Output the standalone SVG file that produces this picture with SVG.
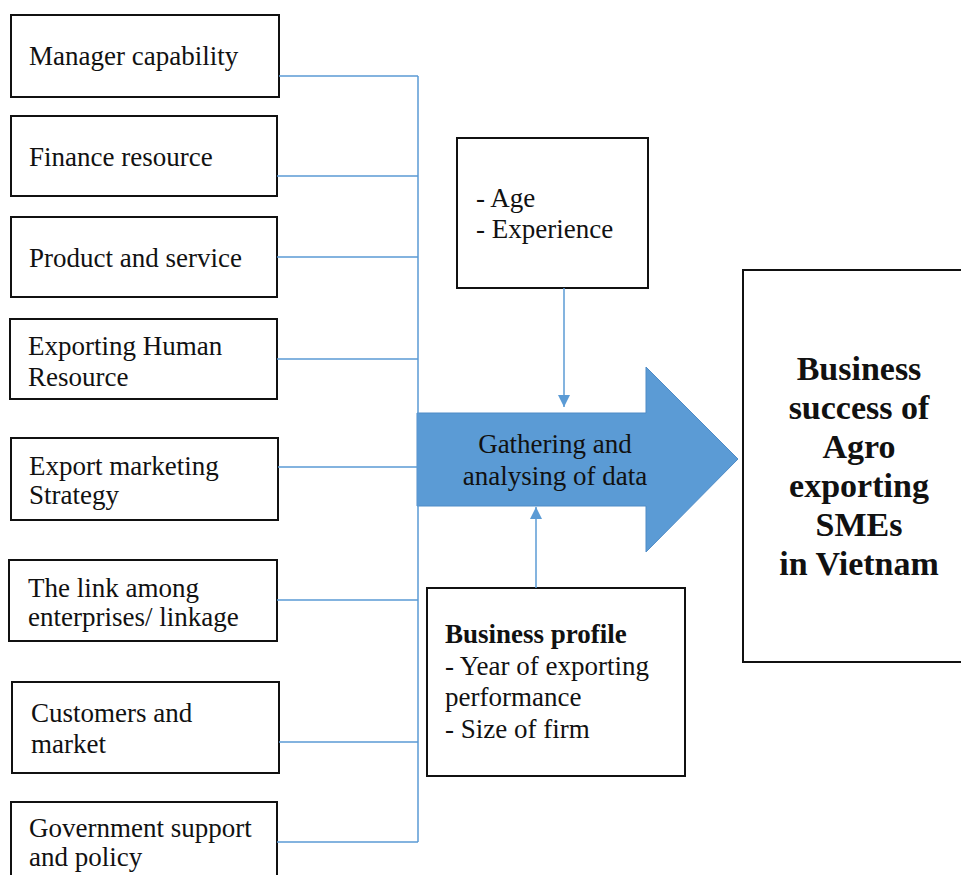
<svg xmlns="http://www.w3.org/2000/svg" width="961" height="875" viewBox="0 0 961 875">
  <defs>
    <style>
      .box { fill: #ffffff; stroke: #111111; stroke-width: 2; }
      .txt { font-family: "Liberation Serif", "Times New Roman", serif; font-size: 27px; fill: #111111; }
      .bold { font-weight: bold; }
      .big { font-family: "Liberation Serif", "Times New Roman", serif; font-size: 34px; font-weight: bold; fill: #111111; text-anchor: middle; }
      .link { fill: none; stroke: #5b9bd5; stroke-width: 1.5; }
      .flow { fill: #5b9bd5; stroke: #4f8bc6; stroke-width: 1; }
    </style>
    <marker id="head" viewBox="0 0 12 12" refX="12" refY="6" markerWidth="12" markerHeight="12" markerUnits="userSpaceOnUse" orient="auto">
      <path d="M0,0 L12,6 L0,12 Z" fill="#5b9bd5"/>
    </marker>
  </defs>

  <rect width="961" height="875" fill="#ffffff"/>

  <!-- factor boxes -->
  <g id="manager-capability">
    <rect class="box" x="11" y="15" width="268" height="82"/>
    <text class="txt" x="29" y="65">Manager capability</text>
  </g>
  <g id="finance-resource">
    <rect class="box" x="11" y="116" width="266" height="80"/>
    <text class="txt" x="29" y="166">Finance resource</text>
  </g>
  <g id="product-service">
    <rect class="box" x="11" y="217" width="266" height="80"/>
    <text class="txt" x="29" y="267">Product and service</text>
  </g>
  <g id="human-resource">
    <rect class="box" x="10" y="319" width="267" height="80"/>
    <text class="txt" x="28" y="355">Exporting Human</text>
    <text class="txt" x="28" y="386">Resource</text>
  </g>
  <g id="marketing-strategy">
    <rect class="box" x="11" y="438" width="267" height="82"/>
    <text class="txt" x="29" y="475">Export marketing</text>
    <text class="txt" x="29" y="504">Strategy</text>
  </g>
  <g id="linkage">
    <rect class="box" x="9" y="560" width="268" height="81"/>
    <text class="txt" x="28" y="597">The link among</text>
    <text class="txt" x="28" y="626">enterprises/ linkage</text>
  </g>
  <g id="customers-market">
    <rect class="box" x="12" y="682" width="267" height="91"/>
    <text class="txt" x="31" y="722">Customers and</text>
    <text class="txt" x="31" y="753">market</text>
  </g>
  <g id="government">
    <rect class="box" x="11" y="802" width="266" height="90"/>
    <text class="txt" x="29" y="837">Government support</text>
    <text class="txt" x="29" y="866">and policy</text>
  </g>

  <!-- central process arrow -->
  <g id="gathering">
    <polygon class="flow" points="417,413 646,413 646,367 738,459 646,552 646,506 417,506"/>
    <text class="txt" x="555" y="453" text-anchor="middle">Gathering and</text>
    <text class="txt" x="555" y="485" text-anchor="middle">analysing of data</text>
  </g>

  <!-- moderator boxes -->
  <g id="age-experience">
    <rect class="box" x="457" y="138" width="191" height="150"/>
    <text class="txt" x="476" y="207">- Age</text>
    <text class="txt" x="476" y="238">- Experience</text>
  </g>
  <g id="business-profile">
    <rect class="box" x="427" y="588" width="258" height="188"/>
    <text class="txt bold" x="445" y="643">Business profile</text>
    <text class="txt" x="445" y="675">- Year of exporting</text>
    <text class="txt" x="445" y="706">performance</text>
    <text class="txt" x="445" y="738">- Size of firm</text>
  </g>

  <!-- outcome -->
  <g id="business-success">
    <rect class="box" x="743" y="270" width="230" height="392"/>
    <text class="big" x="859" y="380">Business</text>
    <text class="big" x="859" y="419">success of</text>
    <text class="big" x="859" y="458">Agro</text>
    <text class="big" x="859" y="497">exporting</text>
    <text class="big" x="859" y="536">SMEs</text>
    <text class="big" x="859" y="575">in Vietnam</text>
  </g>

  <!-- connectors -->
  <g id="connectors">
    <path class="link" d="M279,76 H418 M277,176 H418 M277,257 H418 M277,359 H418 M278,467 H418 M277,600 H418 M279,742 H418 M277,842 H418 M418,76 V842"/>
    <path class="link" d="M564,288 V407" marker-end="url(#head)"/>
    <path class="link" d="M536,588 V507" marker-end="url(#head)"/>
  </g>
</svg>
